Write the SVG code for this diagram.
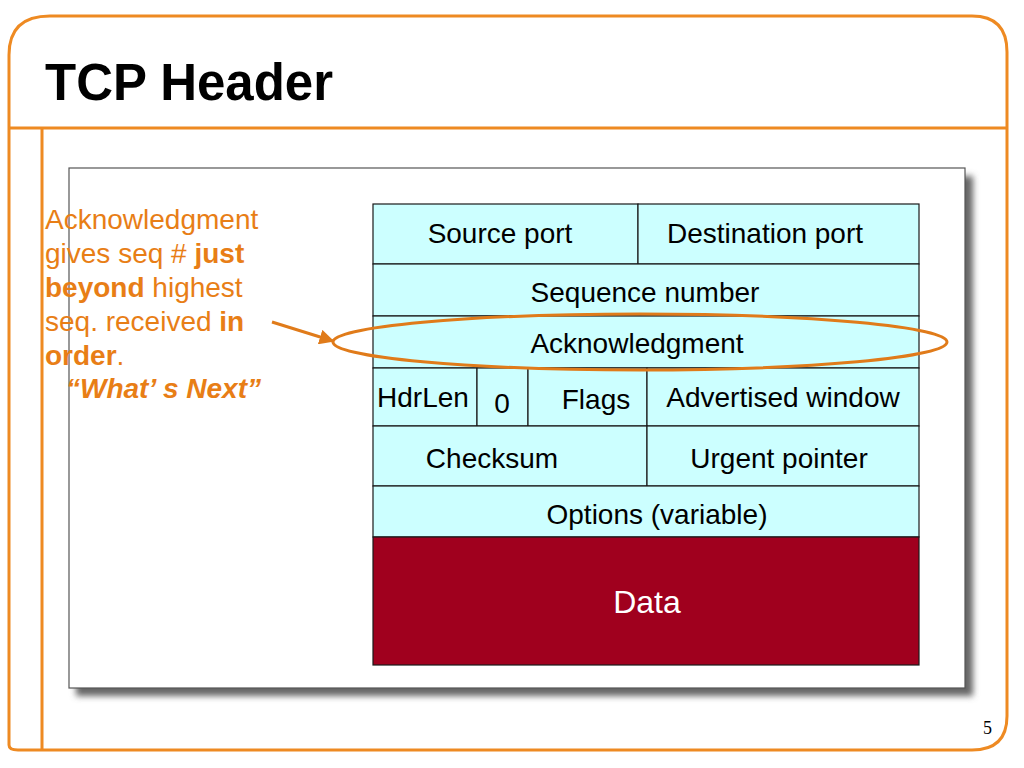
<svg xmlns="http://www.w3.org/2000/svg" width="1024" height="768" viewBox="0 0 1024 768">
<defs>
<style>
.cell{fill:#CCFFFF;stroke:#1a1a1a;stroke-width:1.2}
.lbl{font-family:"Liberation Sans",Arial,sans-serif;font-size:28px;fill:#000;text-anchor:middle}
.note{font-family:"Liberation Sans",Arial,sans-serif;font-size:28px;fill:#E87E16}
.orange{fill:none;stroke:#EE8A22;stroke-width:3}
</style>
<filter id="sh" x="-5%" y="-5%" width="110%" height="110%">
<feGaussianBlur stdDeviation="3"/>
</filter>
<marker id="ah" viewBox="0 0 10 10" refX="9" refY="5" markerWidth="5" markerHeight="5" orient="auto" markerUnits="strokeWidth">
<path d="M0,0 L10,5 L0,10 z" fill="#E07B1A"/>
</marker>
</defs>
<rect width="1024" height="768" fill="#fff"/>
<g id="frame">
<path class="orange" d="M9,745 L9,55 Q9,16 50,16 L972,16 Q1007,16 1007,52 L1007,716 Q1007,750 972,750 L18,750 Q9,750 9,745"/>
<line class="orange" x1="9" y1="128" x2="1007" y2="128"/>
<line class="orange" x1="42" y1="128" x2="42" y2="750"/>
</g>
<text x="45" y="100" font-family="'Liberation Sans',Arial,sans-serif" font-weight="bold" font-size="51" textLength="288" lengthAdjust="spacingAndGlyphs" fill="#000">TCP Header</text>
<g id="panel">
<rect x="76" y="176" width="897" height="520" fill="#666" filter="url(#sh)"/>
<rect x="69" y="168" width="896" height="520" fill="#fff" stroke="#555" stroke-width="1.2"/>
</g>
<g id="header">
<g id="row1">
<rect class="cell" x="373" y="204" width="265" height="60"/>
<rect class="cell" x="638" y="204" width="281" height="60"/>
<text class="lbl" x="500" y="243">Source port</text>
<text class="lbl" x="765" y="243">Destination port</text>
</g>
<g id="row2">
<rect class="cell" x="373" y="264" width="546" height="52"/>
<text class="lbl" x="645" y="302">Sequence number</text>
</g>
<g id="row3">
<rect class="cell" x="373" y="316" width="546" height="52"/>
<text class="lbl" x="637" y="353">Acknowledgment</text>
</g>
<g id="row4">
<rect class="cell" x="373" y="368" width="104" height="58"/>
<rect class="cell" x="477" y="368" width="51" height="58"/>
<rect class="cell" x="528" y="368" width="119" height="58"/>
<rect class="cell" x="647" y="368" width="272" height="58"/>
<text class="lbl" x="423" y="407">HdrLen</text>
<text class="lbl" x="502" y="413">0</text>
<text class="lbl" x="596" y="409">Flags</text>
<text class="lbl" x="783" y="407">Advertised window</text>
</g>
<g id="row5">
<rect class="cell" x="373" y="426" width="274" height="60"/>
<rect class="cell" x="647" y="426" width="272" height="60"/>
<text class="lbl" x="492" y="468">Checksum</text>
<text class="lbl" x="779" y="468">Urgent pointer</text>
</g>
<g id="row6">
<rect class="cell" x="373" y="486" width="546" height="51"/>
<text class="lbl" x="657" y="524">Options (variable)</text>
</g>
<g id="data">
<rect x="373" y="537" width="546" height="128" fill="#A0001E" stroke="#1a1a1a" stroke-width="1.2"/>
<text class="lbl" x="647" y="613" font-size="32" style="font-size:32px;fill:#fff">Data</text>
</g>
</g>
<g id="annotation">
<text class="note" x="45" y="229">Acknowledgment</text>
<text class="note" x="45" y="263">gives seq # <tspan font-weight="bold">just</tspan></text>
<text class="note" x="45" y="297"><tspan font-weight="bold">beyond</tspan> highest</text>
<text class="note" x="45" y="331">seq. received <tspan font-weight="bold">in</tspan></text>
<text class="note" x="45" y="365"><tspan font-weight="bold">order</tspan>.</text>
<text class="note" x="66" y="398" font-weight="bold" font-style="italic">“What’ s Next”</text>
</g>
<g id="connectors">
<line x1="272" y1="322" x2="333" y2="341" stroke="#E07B1A" stroke-width="3" marker-end="url(#ah)"/>
<ellipse cx="640" cy="342" rx="307" ry="28" fill="none" stroke="#E07B1A" stroke-width="3"/>
</g>
<text x="983" y="734" font-family="'Liberation Serif','Times New Roman',serif" font-size="18" fill="#000">5</text>
</svg>
